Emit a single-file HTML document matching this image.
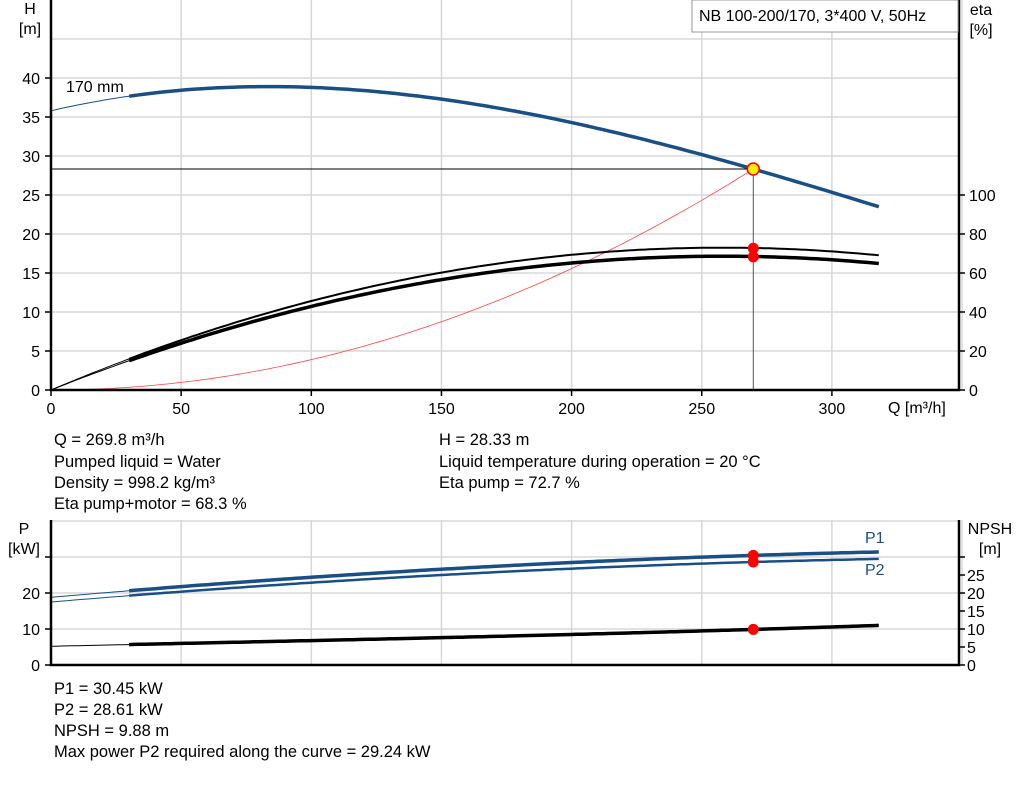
<!DOCTYPE html>
<html><head><meta charset="utf-8"><style>
body{margin:0;background:#fff;width:1024px;height:781px;overflow:hidden;font-family:"Liberation Sans",Arial,sans-serif}
svg text{font-family:"Liberation Sans",Arial,sans-serif;font-size:16px;fill:#000}
.info{font-size:16.5px}
</style></head><body>
<svg id="s" width="1024" height="781" xmlns="http://www.w3.org/2000/svg">
<g stroke="#d8d8d8" stroke-width="1.5" id="grid"></g>
<g id="curves"></g>
<g stroke="#000" stroke-width="2.5" fill="none">
<path d="M51,0V390H959V0"/>
<path d="M51,520V665H959V520"/>
</g>
<g stroke="#000" stroke-width="1.5" id="ticks"></g>
<g id="labels"></g>
<text x="30" y="14" text-anchor="middle">H</text>
<text x="30" y="34" text-anchor="middle">[m]</text>
<text x="981" y="15" text-anchor="middle">eta</text>
<text x="981" y="35" text-anchor="middle">[%]</text>
<text x="66" y="92">170 mm</text>
<text x="888" y="413">Q [m³/h]</text>
<rect x="692" y="0" width="266" height="32" fill="#fff" stroke="#999" stroke-width="1"/>
<text x="699" y="21">NB 100-200/170, 3*400 V, 50Hz</text>
<text x="24" y="534" text-anchor="middle">P</text>
<text x="24" y="554" text-anchor="middle">[kW]</text>
<text x="990" y="534" text-anchor="middle">NPSH</text>
<text x="990" y="554" text-anchor="middle">[m]</text>
<text x="865" y="543" style="fill:#1a4f86">P1</text>
<text x="865" y="575" style="fill:#1a4f86">P2</text>
<g class="info">
<text class="info" x="54" y="445">Q = 269.8 m³/h</text>
<text class="info" x="54" y="467">Pumped liquid = Water</text>
<text class="info" x="54" y="488">Density = 998.2 kg/m³</text>
<text class="info" x="54" y="509">Eta pump+motor = 68.3 %</text>
<text class="info" x="439" y="445">H = 28.33 m</text>
<text class="info" x="439" y="467">Liquid temperature during operation = 20 °C</text>
<text class="info" x="439" y="488">Eta pump = 72.7 %</text>
<text class="info" x="54" y="694">P1 = 30.45 kW</text>
<text class="info" x="54" y="715">P2 = 28.61 kW</text>
<text class="info" x="54" y="736">NPSH = 9.88 m</text>
<text class="info" x="54" y="757">Max power P2 required along the curve = 29.24 kW</text>
</g>
</svg>
<script>
var NS="http://www.w3.org/2000/svg";
function el(p,t,a,txt){var e=document.createElementNS(NS,t);for(var k in a)e.setAttribute(k,a[k]);if(txt!==undefined)e.textContent=txt;document.getElementById(p).appendChild(e);return e;}
var X=function(q){return 51+q*2.603};
var g="grid";
for(var q=50;q<=350;q+=50){var x=X(q);el(g,"line",{x1:x,y1:0,x2:x,y2:390});el(g,"line",{x1:x,y1:520,x2:x,y2:665});}
for(var h=5;h<=50;h+=5){var y=390-h*7.8;if(y>0)el(g,"line",{x1:51,y1:y,x2:959,y2:y});}
for(var p=10;p<=40;p+=10){var y=665-p*3.6;if(y>520)el(g,"line",{x1:51,y1:y,x2:959,y2:y});}
for(var q=0;q<=300;q+=50){el("ticks","line",{x1:X(q),y1:390,x2:X(q),y2:396});el("labels","text",{x:X(q),y:414,"text-anchor":"middle"},q);}
for(var h=0;h<=40;h+=5){var y=390-h*7.8;el("ticks","line",{x1:45,y1:y,x2:51,y2:y});el("labels","text",{x:40,y:y+6,"text-anchor":"end"},h);}
for(var e=0;e<=100;e+=20){var y=390-e*1.95;el("ticks","line",{x1:959,y1:y,x2:965,y2:y});el("labels","text",{x:969,y:y+6},e);}
for(var p=0;p<=30;p+=10){var y=665-p*3.6;el("ticks","line",{x1:45,y1:y,x2:51,y2:y});if(p<30)el("labels","text",{x:40,y:y+6,"text-anchor":"end"},p);}
for(var n=0;n<=30;n+=5){var y=665-n*3.6;el("ticks","line",{x1:959,y1:y,x2:965,y2:y});if(n<30)el("labels","text",{x:967,y:y+6},n);}
function path(f,q0,q1,Y){var d="";for(var q=q0;q<=q1+0.01;q+=2){d+=(d?"L":"M")+X(q).toFixed(1)+","+Y(f(q)).toFixed(1);}return d;}
var YH=function(h){return 390-h*7.8},YE=function(e){return 390-e*1.95},YP=function(p){return 665-p*3.6};
function lag(pts){return function(q){var s=0;for(var i=0;i<pts.length;i++){var t=pts[i][1];for(var j=0;j<pts.length;j++)if(j!=i)t*=(q-pts[j][0])/(pts[i][0]-pts[j][0]);s+=t;}return s;}}
var H=lag([[0,35.8],[85,38.9],[269.8,28.33],[318,23.5]]);
var E1=function(q){return 73*(2*q/258-(q/258)*(q/258))};
var E2=function(q){return 68.6*(2*q/258-(q/258)*(q/258))};
var SYS=function(q){return 28.33*(q/269.8)*(q/269.8)};
var P1=lag([[0,18.8],[150,26.6],[269.8,30.45]]);
var P2=lag([[0,17.5],[150,25.0],[269.8,28.61]]);
var NP=lag([[0,5.2],[150,7.6],[269.8,9.88],[318,11.0]]);
var c="curves",B="#1a4f86";
el(c,"path",{d:path(SYS,0,270,YH),stroke:"#ff4444","stroke-width":0.8,fill:"none"});
el(c,"path",{d:path(H,0,30,YH),stroke:B,"stroke-width":1,fill:"none"});
el(c,"path",{d:path(H,30,318,YH),stroke:B,"stroke-width":3.5,fill:"none"});
el(c,"path",{d:path(E1,0,30,YE),stroke:"#000","stroke-width":1,fill:"none"});
el(c,"path",{d:path(E1,30,318,YE),stroke:"#000","stroke-width":2,fill:"none"});
el(c,"path",{d:path(E2,0,30,YE),stroke:"#000","stroke-width":1,fill:"none"});
el(c,"path",{d:path(E2,30,318,YE),stroke:"#000","stroke-width":3.5,fill:"none"});
[[P1,3.5,B],[P2,2.5,B],[NP,3.5,"#000"]].forEach(function(a){el(c,"path",{d:path(a[0],0,30,YP),stroke:a[2],"stroke-width":1,fill:"none"});el(c,"path",{d:path(a[0],30,318,YP),stroke:a[2],"stroke-width":a[1],fill:"none"});});
var xo=X(269.8);
el(c,"line",{x1:51,y1:YH(28.33),x2:xo,y2:YH(28.33),stroke:"#000","stroke-width":1});
el(c,"line",{x1:xo,y1:YH(28.33),x2:xo,y2:390,stroke:"#555","stroke-width":1});
el(c,"circle",{cx:xo,cy:YE(72.7),r:5.5,fill:"red"});
el(c,"circle",{cx:xo,cy:YE(68.3),r:5.5,fill:"red"});
el(c,"circle",{cx:xo,cy:YH(28.33),r:6,fill:"#ffee00",stroke:"red","stroke-width":1.5});
el(c,"circle",{cx:xo,cy:YP(30.45),r:5.5,fill:"red"});
el(c,"circle",{cx:xo,cy:YP(28.61),r:5.5,fill:"red"});
el(c,"circle",{cx:xo,cy:YP(9.88),r:5.5,fill:"red"});
</script>
</body></html>
